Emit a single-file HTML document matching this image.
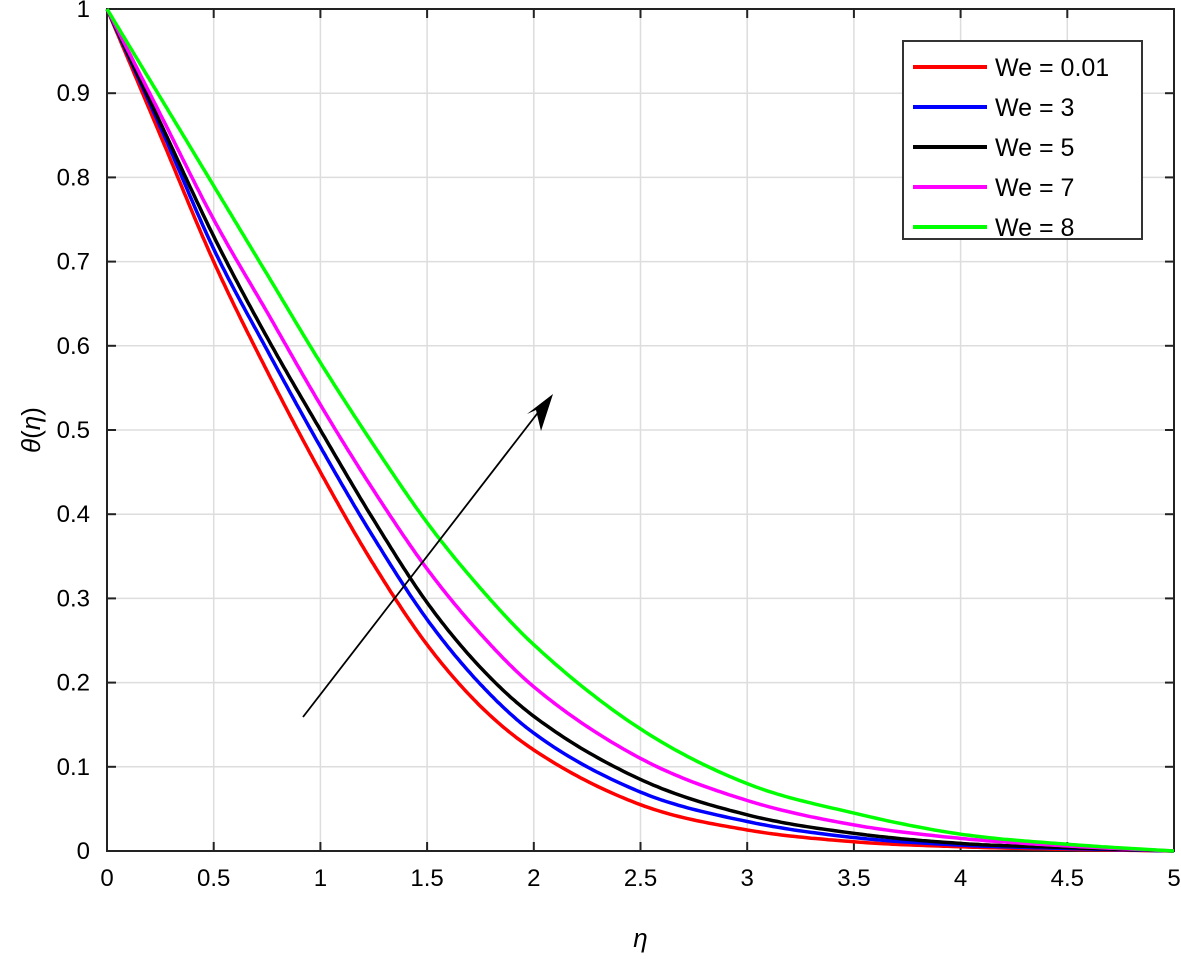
<!DOCTYPE html><html><head><style>body{margin:0;background:#fff}svg{display:block}text{font-family:"Liberation Sans",Arial,sans-serif}</style></head><body>
<svg id="s" width="1181" height="960" xmlns="http://www.w3.org/2000/svg"></svg>
<script>
const X0=107,X1=1174,Y0=851,Y1=9;
const sx=x=>X0+(X1-X0)*x/5, sy=y=>Y0-(Y0-Y1)*y;
let h='';
for(let i=0;i<=10;i++){const x=sx(i*0.5);h+=`<line x1="${x}" y1="${Y1}" x2="${x}" y2="${Y0}" stroke="#ddd" stroke-width="1.5"/>`;
h+=`<line x1="${x}" y1="${Y0}" x2="${x}" y2="${Y0-9}" stroke="#222" stroke-width="2"/><line x1="${x}" y1="${Y1}" x2="${x}" y2="${Y1+9}" stroke="#222" stroke-width="2"/>`;
h+=`<text x="${x}" y="${Y0+35}" font-size="24" text-anchor="middle">${i*0.5}</text>`;}
for(let i=0;i<=10;i++){const y=sy(i/10);h+=`<line x1="${X0}" y1="${y}" x2="${X1}" y2="${y}" stroke="#ddd" stroke-width="1.5"/>`;
h+=`<line x1="${X0}" y1="${y}" x2="${X0+9}" y2="${y}" stroke="#222" stroke-width="2"/><line x1="${X1}" y1="${y}" x2="${X1-9}" y2="${y}" stroke="#222" stroke-width="2"/>`;
h+=`<text x="${X0-17}" y="${y+8}" font-size="24" text-anchor="end">${i==0?0:i==10?1:(i/10).toFixed(1)}</text>`;}
h+=`<rect x="${X0}" y="${Y1}" width="${X1-X0}" height="${Y0-Y1}" fill="none" stroke="#222" stroke-width="2"/>`;
const xs=[0,0.25,0.5,0.75,1,1.25,1.5,1.75,2,2.5,3,3.5,4,4.5,5];
const D=[["#f00",[1,.85,.70,.57,.45,.34,.245,.172,.12,.055,.025,.011,.005,.002,0]],
["#00f",[1,.86,.715,.595,.48,.372,.275,.198,.14,.07,.035,.016,.007,.003,0]],
["#000",[1,.865,.73,.61,.50,.393,.295,.218,.16,.085,.043,.021,.009,.004,0]],
["#f0f",[1,.875,.75,.64,.53,.428,.335,.258,.195,.11,.06,.031,.015,.006,0]],
["#0f0",[1,.895,.79,.685,.58,.482,.39,.312,.245,.145,.08,.045,.02,.008,0]]];
function mono(ys){const n=xs.length,d=[],m=[];for(let i=0;i<n-1;i++)d.push((ys[i+1]-ys[i])/(xs[i+1]-xs[i]));
m[0]=d[0];m[n-1]=d[n-2];for(let i=1;i<n-1;i++){m[i]=d[i-1]*d[i]<=0?0:(d[i-1]+d[i])/2;}
let p=[];for(let i=0;i<n-1;i++){const hh=xs[i+1]-xs[i];for(let t=0;t<1;t+=0.04){const t2=t*t,t3=t2*t;
const y=(2*t3-3*t2+1)*ys[i]+(t3-2*t2+t)*hh*m[i]+(-2*t3+3*t2)*ys[i+1]+(t3-t2)*hh*m[i+1];p.push(sx(xs[i]+hh*t).toFixed(1)+','+sy(y).toFixed(1));}}
p.push(sx(5)+','+sy(0));return p.join(' ');}
D.forEach(d=>h+=`<polyline points="${mono(d[1])}" fill="none" stroke="${d[0]}" stroke-width="3.5"/>`);
h+=`<line x1="303" y1="717" x2="540" y2="410" stroke="#000" stroke-width="1.8"/><polygon points="553,394 527,414 536,410 541,431" fill="#000"/>`;
h+=`<rect x="903" y="41" width="239" height="198" fill="#fff" stroke="#333" stroke-width="2"/>`;
const L=["0.01","3","5","7","8"];
D.forEach((d,i)=>{const y=67+i*40;h+=`<line x1="913" y1="${y}" x2="987" y2="${y}" stroke="${d[0]}" stroke-width="4"/><text x="995" y="${y+9}" font-size="25">We = ${L[i]}</text>`;});
h+=`<text x="${sx(2.5)}" y="947" font-size="26" font-style="italic" font-family="Liberation Serif" text-anchor="middle">η</text>`;
h+=`<text transform="translate(40,430) rotate(-90)" font-size="26" font-family="Liberation Serif" text-anchor="middle"><tspan font-style="italic">θ</tspan>(<tspan font-style="italic">η</tspan>)</text>`;
document.getElementById('s').innerHTML=h;
</script></body></html>
